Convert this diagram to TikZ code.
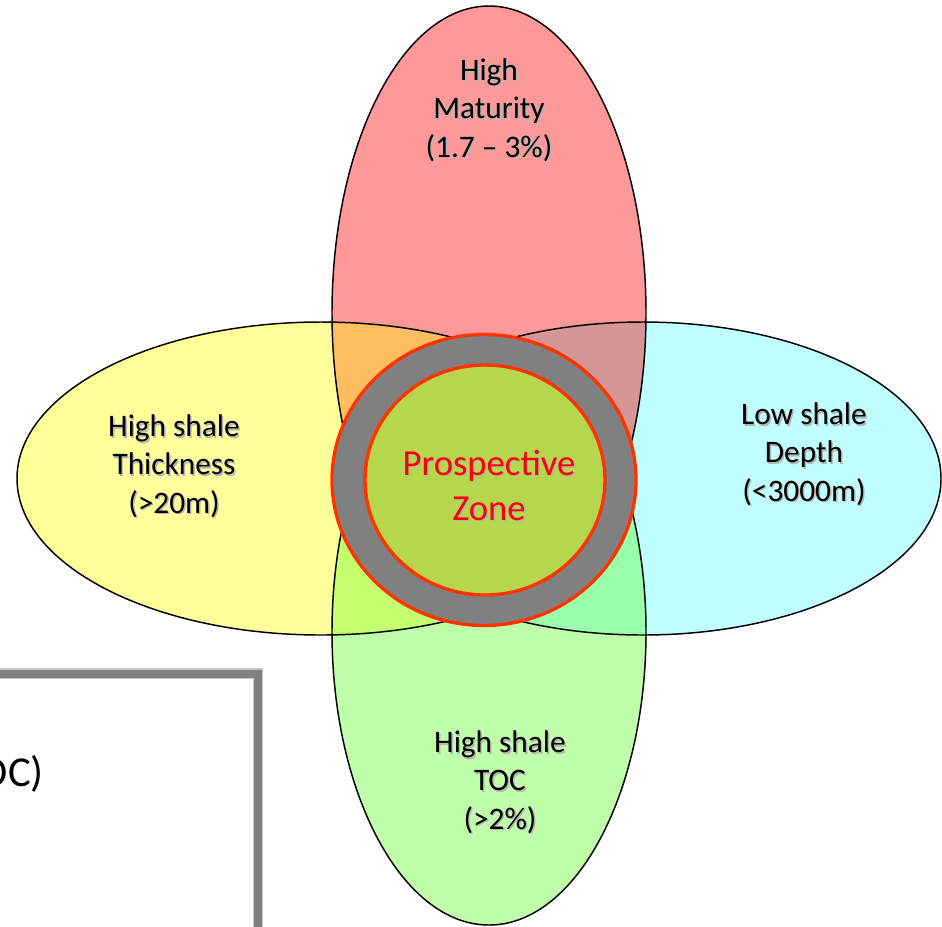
\documentclass[tikz,border=0pt]{standalone}
\usepackage{fontspec}
\setmainfont{Carlito}
\usepackage{xcolor}
\usetikzlibrary{positioning}
\definecolor{matred}{HTML}{FF9999}
\definecolor{thkyellow}{HTML}{FFFF99}
\definecolor{depcyan}{HTML}{BFFFFF}
\definecolor{tocgreen}{HTML}{C0FFAA}
\definecolor{redyel}{HTML}{FEBE5F}
\definecolor{redcyan}{HTML}{D69696}
\definecolor{yelgreen}{HTML}{C4FF70}
\definecolor{cyangreen}{HTML}{99FFAA}
\definecolor{zonegreen}{HTML}{B5D64D}
\definecolor{zonered}{HTML}{FF3300}
\definecolor{shadowgray}{HTML}{B4B4B4}
\newcommand{\shd}[1]{\leavevmode\rlap{\kern1.1pt\raisebox{-1.1pt}{\color{shadowgray}#1}}#1}
% the four criteria petals
\newcommand{\redpetal}{(489,313) ellipse [x radius=157, y radius=307]}
\newcommand{\yelpetal}{(321,478.5) ellipse [x radius=304, y radius=156.5]}
\newcommand{\cyanpetal}{(643,478.5) ellipse [x radius=298, y radius=156.5]}
\newcommand{\greenpetal}{(489,632) ellipse [x radius=157, y radius=293]}
\tikzset{
  petal/.style={draw=black, line width=1.1pt},
  crit/.style={align=center, text=black, font=\fontsize{23.5}{28.8}\selectfont, inner sep=0pt},
  zonetxt/.style={align=center, text=red, font=\fontsize{27.5}{34}\selectfont, inner sep=0pt},
  ring/.style={draw=zonered, line width=2.5pt}
}
\begin{document}
\begin{tikzpicture}[x=0.75pt, y=-0.75pt]
  \useasboundingbox (0,0) rectangle (942,926);
  \clip (0,0) rectangle (942,926);
  \fill[white] (0,0) rectangle (942,926);

  % petals
  \fill[thkyellow] \yelpetal;
  \fill[matred] \redpetal;
  \fill[depcyan] \cyanpetal;
  \fill[tocgreen] \greenpetal;

  % overlaps
  \begin{scope}
    \clip \redpetal;
    \fill[redyel] \yelpetal;
    \fill[redcyan] \cyanpetal;
  \end{scope}
  \begin{scope}
    \clip \greenpetal;
    \fill[yelgreen] \yelpetal;
    \fill[cyangreen] \cyanpetal;
  \end{scope}

  \draw[petal] \yelpetal;
  \draw[petal] \redpetal;
  \draw[petal] \cyanpetal;
  \draw[petal] \greenpetal;

  % text box at the lower left
  \draw[draw=gray!45, double=gray, line width=0.9pt, double distance=6pt]
    (-40,673.5) -- (258,673.5) -- (258,980);
  \node[anchor=base east, font=\fontsize{32}{38}\selectfont, inner sep=0pt] (tocbox) at (44,786) {OC)};

  % prospective zone
  \filldraw[ring, fill=gray] (484,480) ellipse [x radius=152, y radius=145.5];
  \filldraw[ring, fill=zonegreen] (485,480) ellipse [x radius=120, y radius=115];

  \node[crit] (mat) at (489,111) {\shd{High}\\\shd{Maturity}\\\shd{(1.7 – 3\%)}};
  \node[crit] (thk) at (174,467) {\shd{High shale}\\\shd{Thickness}\\\shd{(>20m)}};
  \node[crit] (dep) at (804,455) {\shd{Low shale}\\\shd{Depth}\\\shd{(<3000m)}};
  \node[crit] (toc) at (500,783) {\shd{High shale}\\\shd{TOC}\\\shd{(>2\%)}};
  \node[zonetxt] (zone) at (489,486) {\shd{Prospective}\\\shd{Zone}};
\end{tikzpicture}
\end{document}
